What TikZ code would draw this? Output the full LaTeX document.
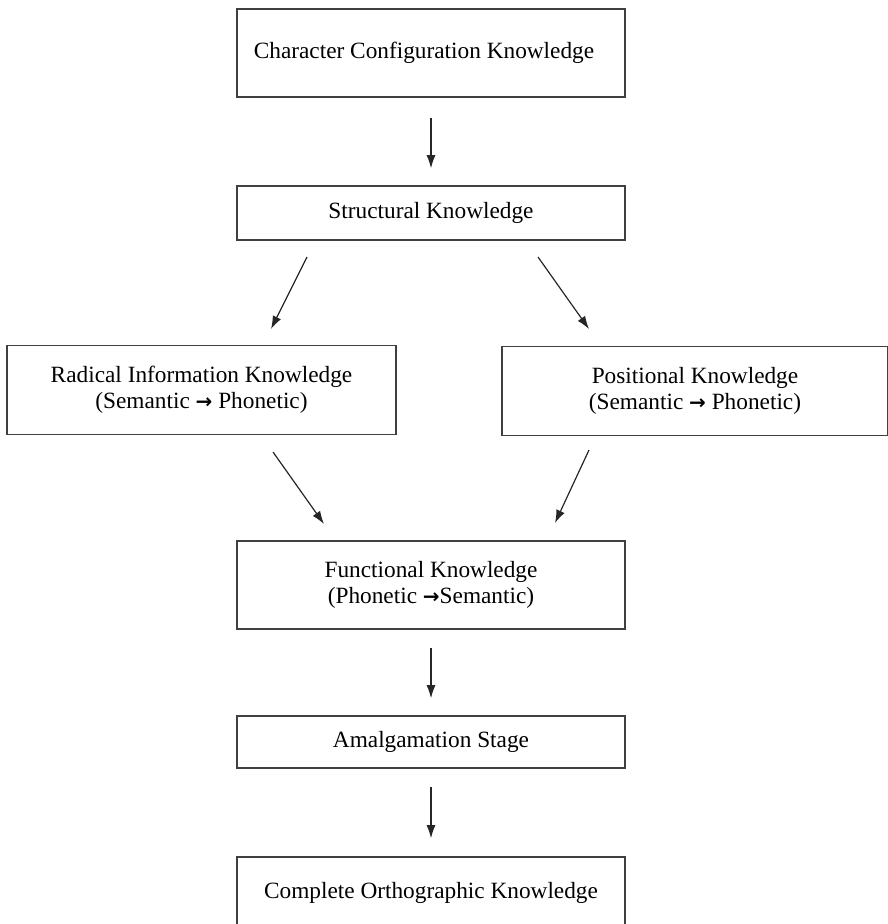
\documentclass[tikz,border=0pt]{standalone}
\usepackage{fontspec}
\setmainfont{Liberation Serif}
\newfontfamily\arrfont{DejaVu Sans}
\newcommand{\rarr}{{\arrfont\bfseries\fontsize{20}{24}\selectfont →}}
\usetikzlibrary{arrows.meta,calc}
\begin{document}
\begin{tikzpicture}[x=1pt,y=-1pt,
  box/.style={draw=black!75,line width=1.6pt,align=center,inner sep=0pt,
    font=\fontsize{23.3}{26}\selectfont,text=black},
  arr/.style={draw=black!85,line width=1.2pt,-{Latex[length=13pt,width=9pt]}}]
\useasboundingbox (0,0) rectangle (888,924);
\clip (0,0) rectangle (888,924);
\node[box,minimum width=388pt,minimum height=88pt] (b1) at (431,53) {\hspace*{-14pt}Character Configuration Knowledge};
\node[box,minimum width=388pt,minimum height=54pt] (b2) at (431,213) {Structural Knowledge};
\node[box,minimum width=389pt,minimum height=89pt] (b3) at (201.5,390) {Radical Information Knowledge\\(Semantic \rarr{} Phonetic)};
\node[box,minimum width=386pt,minimum height=89pt] (b4) at (695,391) {Positional Knowledge\\(Semantic \rarr{} Phonetic)};
\node[box,minimum width=388pt,minimum height=88pt] (b5) at (431,585) {Functional Knowledge\\(Phonetic \rarr{}Semantic)};
\node[box,minimum width=388pt,minimum height=52pt] (b6) at (431,742) {Amalgamation Stage};
\node[box,minimum width=388pt,minimum height=72pt] (b7) at (431,893) {Complete Orthographic Knowledge};
\coordinate (l1s) at (307,257); \coordinate (l1e) at (271,329);
\coordinate (r1s) at (538,257); \coordinate (r1e) at (589,329);
\coordinate (l2s) at (273,452); \coordinate (l2e) at (324,524);
\coordinate (r2s) at (589,450); \coordinate (r2e) at (555,523);
\draw[arr,shorten <=20pt,shorten >=17pt] (b1.south) -- (b2.north);
\draw[arr] (l1s) -- (l1e);
\draw[arr] (r1s) -- (r1e);
\draw[arr] (l2s) -- (l2e);
\draw[arr] (r2s) -- (r2e);
\draw[arr,shorten <=18pt,shorten >=17pt] (b5.south) -- (b6.north);
\draw[arr,shorten <=18pt,shorten >=18pt] (b6.south) -- (b7.north);
\end{tikzpicture}
\end{document}
